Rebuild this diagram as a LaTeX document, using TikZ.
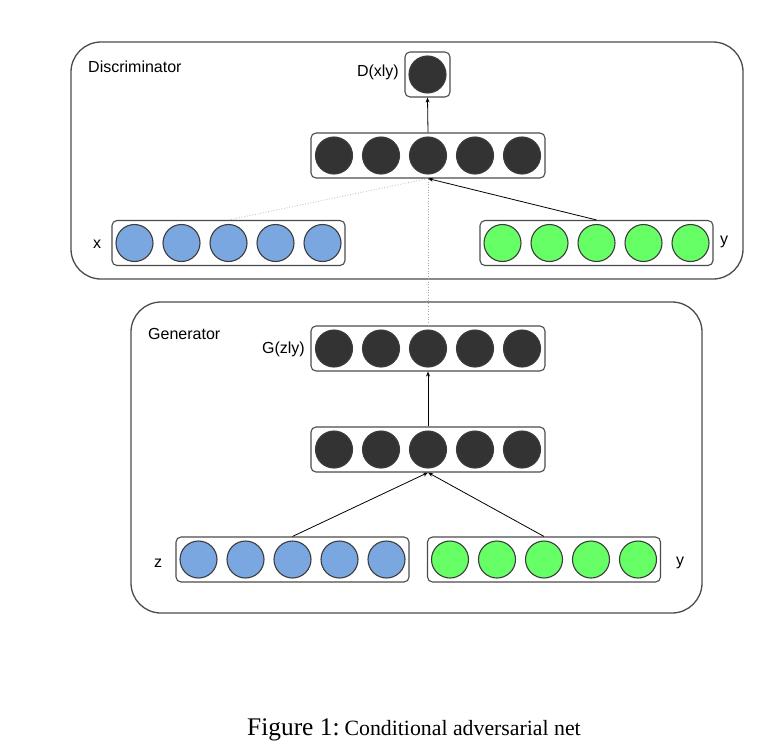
\documentclass[tikz,border=0pt]{standalone}
\usepackage{fontspec}
\setmainfont{Liberation Sans}
\newfontfamily\capfont{Liberation Serif}
\usetikzlibrary{arrows.meta}
\definecolor{unitdark}{RGB}{51,51,51}
\definecolor{unitblue}{RGB}{123,167,224}
\definecolor{unitgreen}{RGB}{102,255,102}
\definecolor{edgegray}{RGB}{75,75,75}
\tikzset{
  panel/.style={draw=edgegray, line width=1.3pt, rounded corners=30pt},
  layerbox/.style={draw=edgegray, line width=1.1pt, rounded corners=5pt, inner sep=0pt},
  unit/.style={circle, draw=edgegray!80!black, line width=1.1pt, minimum size=37pt, inner sep=0pt},
  lbl/.style={font=\fontsize{16}{19}\selectfont, inner sep=0pt},
  feed/.style={draw=black, line width=0.8pt, -{Stealth[length=5pt,width=4pt]}},
  skip/.style={draw=gray!70, line width=0.7pt, dotted},
}
% \nnlayer{name}{cx}{cy}{fill}{width}{count}
\newcommand{\nnlayer}[6]{%
  \node[layerbox, minimum width=#5pt, minimum height=45pt] (#1) at (#2,#3) {};
  \foreach \k in {1,...,#6} {
    \node[unit, fill=#4] (#1-\k) at ({#2+(\k-(#6+1)/2)*47},#3) {};
  }%
}
\begin{document}
\begin{tikzpicture}[x=1pt,y=-1pt]
  \useasboundingbox (0,0) rectangle (758,747);
  % panels
  \draw[panel] (71,42) rectangle (743,279);
  \draw[panel] (131,302) rectangle (702,613);
  \node[lbl, anchor=west] (dlabel) at (88,67) {Discriminator};
  \node[lbl, anchor=west] (glabel) at (148,334) {Generator};

  % discriminator layers
  \nnlayer{dout}{427.5}{74.5}{unitdark}{45}{1}
  \nnlayer{dh}{428}{155.5}{unitdark}{234}{5}
  \nnlayer{dx}{228.5}{243}{unitblue}{233}{5}
  \nnlayer{dy}{596.5}{243}{unitgreen}{233}{5}
  \node[lbl, anchor=east] (dtext) at (399,72) {D(xly)};
  \node[lbl] (xtext) at (97,244) {x};
  \node[lbl] (ytext) at (724,242) {y};

  % generator layers
  \nnlayer{gout}{428}{348.5}{unitdark}{234}{5}
  \nnlayer{gh}{428}{449.5}{unitdark}{234}{5}
  \nnlayer{gz}{292.5}{559.5}{unitblue}{233}{5}
  \nnlayer{gy}{544}{559.5}{unitgreen}{233}{5}
  \node[lbl, anchor=east] (gtext) at (305,349) {G(zly)};
  \node[lbl] (ztext) at (158,563) {z};
  \node[lbl] (ytext2) at (680,563) {y};

  % connections
  \draw[feed] (dh.north) -- (dout.south);
  \draw[feed] (dy.north) -- (dh.south);
  \draw[skip] (dx.north) -- (dh.south);
  \draw[skip] (gout.north) -- (dh.south);
  \draw[feed] (gh.north) -- (gout.south);
  \draw[feed] (gz.north) -- (gh.south);
  \draw[feed] (gy.north) -- (gh.south);

  % caption
  \node[anchor=west, inner sep=0pt] (caption) at (247,730)
    {\capfont{\fontsize{25.4}{30}\selectfont Figure 1:}\hspace{5pt}\fontsize{21.8}{26}\selectfont Conditional adversarial net};
\end{tikzpicture}
\end{document}
